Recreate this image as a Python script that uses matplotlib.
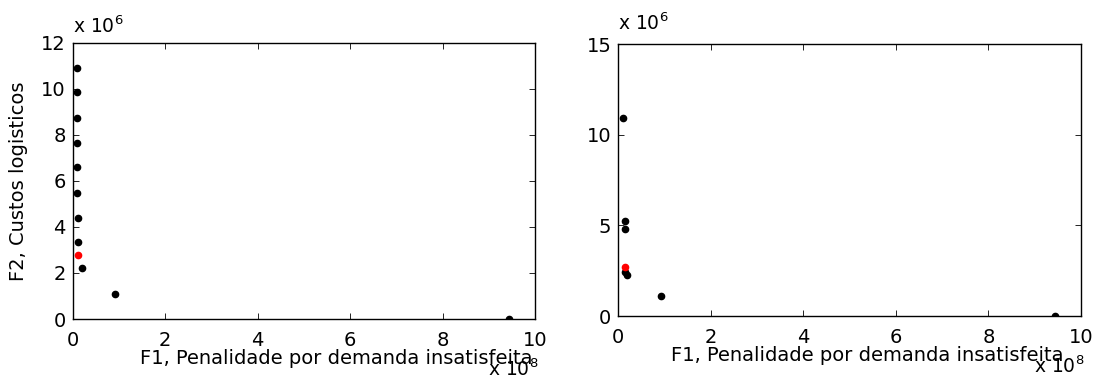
import numpy as np
import matplotlib
matplotlib.use('Agg')
import matplotlib.pyplot as plt

plt.rcParams['font.family'] = ['DejaVu Sans']
plt.rcParams['mathtext.fontset'] = 'dejavusans'
plt.rcParams['font.size'] = 14

# esquerda: F1 em x 10^8, F2 em x 10^6
f1_esq = [0.09, 0.09, 0.09, 0.09, 0.09, 0.09, 0.12, 0.12, 0.19, 0.92, 9.44]
f2_esq = [10.89, 9.84, 8.74, 7.63, 6.59, 5.48, 4.37, 3.33, 2.23, 1.10, 0.0]
f1_esq_sel = [0.12]
f2_esq_sel = [2.77]

# direita
f1_dir = [0.095, 0.14, 0.14, 0.14, 0.18, 0.93, 9.44]
f2_dir = [10.93, 5.26, 4.82, 2.45, 2.26, 1.12, 0.0]
f1_dir_sel = [0.14]
f2_dir_sel = [2.72]

xlabel = 'F1, Penalidade por demanda insatisfeita'
ylabel = 'F2, Custos logisticos'

fig = plt.figure(figsize=(10.99, 3.8), dpi=100)
ax1 = fig.add_axes([0.0662, 0.1605, 0.4207, 0.7271])
ax2 = fig.add_axes([0.5626, 0.1684, 0.4210, 0.7150])


def estilo(ax, ymax, yticks, lx, h):
    ax.set_xlim(0, 10)
    ax.set_ylim(0, ymax)
    ax.set_xticks([0, 2, 4, 6, 8, 10])
    ax.set_yticks(yticks)
    ax.tick_params(direction='in', length=4, width=0.6, top=True, right=True,
                   labelsize=14)
    ax.tick_params(axis='x', pad=8.5)
    ax.tick_params(axis='y', pad=5)
    for s in ax.spines.values():
        s.set_linewidth(1.0)
    ax.set_xlabel(xlabel, fontsize=14)
    ax.xaxis.set_label_coords(lx, -30 / h)
    ax.text(0.0, 1 + 286 / h - 1, r'x 10$^{6}$', transform=ax.transAxes,
            fontsize=13.5, ha='left', va='baseline')
    ax.text(0.898, -57 / h, r'x 10$^{8}$', transform=ax.transAxes,
            fontsize=13.5, ha='left', va='baseline')


ax1.plot(f1_esq, f2_esq, 'o', color='black', markersize=4.5, linestyle='none')
ax1.plot(f1_esq_sel, f2_esq_sel, 'o', color='red', markersize=4.5, linestyle='none')
estilo(ax1, 12, [0, 2, 4, 6, 8, 10, 12], 0.57, 276.3)
ax1.set_ylabel(ylabel, fontsize=14)
ax1.yaxis.set_label_coords(-0.097, 0.5)

ax2.plot(f1_dir, f2_dir, 'o', color='black', markersize=4.5, linestyle='none')
ax2.plot(f1_dir_sel, f2_dir_sel, 'o', color='red', markersize=4.5, linestyle='none')
estilo(ax2, 15, [0, 5, 10, 15], 0.537, 271.7)

fig.savefig('out.png', dpi=100)
